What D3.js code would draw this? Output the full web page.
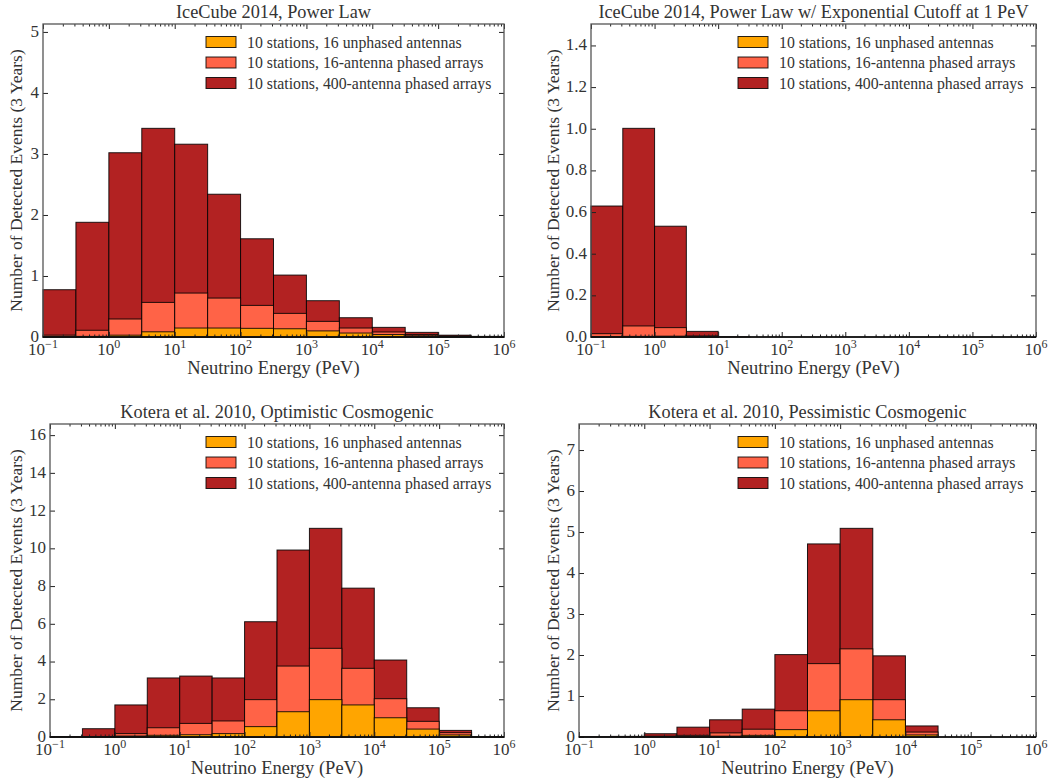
<!DOCTYPE html>
<html>
<head>
<meta charset="utf-8">
<script src="https://cdn.jsdelivr.net/npm/d3@7/dist/d3.min.js"></script>
<style>
  html, body { margin: 0; padding: 0; background: #fff; }
  svg { display: block; }
  text { font-family: "Liberation Serif", "DejaVu Serif", serif; fill: #333; }
</style>
</head>
<body>
<svg id="chart" width="1057" height="784"></svg>
<script>
// ---------- DATA ----------
// Half-decade energy bin edges (PeV)
const binEdges = [0.1, 0.3162, 1, 3.162, 10, 31.62, 100, 316.2, 1000, 3162, 1e4, 3.162e4, 1e5, 3.162e5, 1e6];
const xTickValues = [0.1, 1, 10, 100, 1000, 1e4, 1e5, 1e6];
const xTickExponents = ["\u22121", "0", "1", "2", "3", "4", "5", "6"];

const seriesNames = [
  "10 stations, 16 unphased antennas",
  "10 stations, 16-antenna phased arrays",
  "10 stations, 400-antenna phased arrays"
];
const seriesColors = ["#FFA500", "#FF6347", "#B22222"];

const titles = [
  "IceCube 2014, Power Law",
  "IceCube 2014, Power Law w/ Exponential Cutoff at 1 PeV",
  "Kotera et al. 2010, Optimistic Cosmogenic",
  "Kotera et al. 2010, Pessimistic Cosmogenic"
];

// Panel 1: IceCube 2014, Power Law
const icePL_unphased = [0.003, 0.01, 0.03, 0.085, 0.147, 0.147, 0.142, 0.135, 0.10, 0.065, 0.04, 0.02, 0.01, 0.003];
const icePL_phased16 = [0.03, 0.11, 0.295, 0.567, 0.72, 0.638, 0.518, 0.387, 0.256, 0.147, 0.082, 0.04, 0.015, 0.005];
const icePL_phased400 = [0.775, 1.88, 3.02, 3.42, 3.16, 2.34, 1.61, 1.015, 0.595, 0.316, 0.158, 0.076, 0.03, 0.01];

// Panel 2: IceCube 2014, Power Law w/ cutoff
const iceCut_unphased = [0.001, 0.003, 0.004, 0.001, 0, 0, 0, 0, 0, 0, 0, 0, 0, 0];
const iceCut_phased16 = [0.016, 0.053, 0.045, 0.005, 0, 0, 0, 0, 0, 0, 0, 0, 0, 0];
const iceCut_phased400 = [0.629, 1.002, 0.532, 0.027, 0.001, 0, 0, 0, 0, 0, 0, 0, 0, 0];

// Panel 3: Kotera optimistic
const kotOpt_unphased = [0, 0.003, 0.05, 0.09, 0.12, 0.18, 0.55, 1.34, 1.98, 1.70, 1.02, 0.42, 0.11, 0.003];
const kotOpt_phased16 = [0.005, 0.02, 0.18, 0.49, 0.72, 0.85, 1.98, 3.76, 4.70, 3.64, 2.03, 0.83, 0.23, 0.005];
const kotOpt_phased400 = [0.02, 0.44, 1.70, 3.13, 3.23, 3.13, 6.11, 9.91, 11.06, 7.89, 4.08, 1.55, 0.35, 0.01];

// Panel 4: Kotera pessimistic
const kotPes_unphased = [0, 0, 0, 0.005, 0.02, 0.04, 0.18, 0.64, 0.91, 0.42, 0.05, 0, 0, 0];
const kotPes_phased16 = [0, 0.003, 0.02, 0.04, 0.10, 0.19, 0.64, 1.79, 2.15, 0.91, 0.12, 0, 0, 0];
const kotPes_phased400 = [0.005, 0.015, 0.08, 0.24, 0.42, 0.68, 2.01, 4.71, 5.09, 1.98, 0.27, 0, 0, 0];

const yTicks = [
  [0, 1, 2, 3, 4, 5],
  [0, 0.2, 0.4, 0.6, 0.8, 1.0, 1.2, 1.4],
  [0, 2, 4, 6, 8, 10, 12, 14, 16],
  [0, 1, 2, 3, 4, 5, 6, 7]
];
const yTickFormats = ["d", ".1f", "d", "d"];

// ---------- LAYOUT ----------
const panels = [
  { series: [icePL_unphased, icePL_phased16, icePL_phased400], x0: 43, x1: 504, y0: 24, y1: 337, ylabX: 16 },
  { series: [iceCut_unphased, iceCut_phased16, iceCut_phased400], x0: 591, x1: 1036, y0: 24, y1: 337, ylabX: 553 },
  { series: [kotOpt_unphased, kotOpt_phased16, kotOpt_phased400], x0: 50, x1: 504, y0: 424, y1: 737, ylabX: 16 },
  { series: [kotPes_unphased, kotPes_phased16, kotPes_phased400], x0: 579, x1: 1036, y0: 424, y1: 737, ylabX: 553 }
];

const svg = d3.select("#chart");
const spineColor = "#555";

panels.forEach((p, pi) => {
  const g = svg.append("g");
  const x = d3.scaleLog().domain([0.1, 1e6]).range([p.x0, p.x1]);
  const yMax = 1.5 * d3.max(p.series[2]);
  const y = d3.scaleLinear().domain([0, yMax]).range([p.y1, p.y0]);

  // bars: drawn largest first, each from zero (overlaid)
  const order = [2, 1, 0];
  order.forEach(si => {
    const vals = p.series[si];
    g.append("g").selectAll("rect")
      .data(vals.map((v, i) => ({ v, lo: binEdges[i], hi: binEdges[i + 1] })))
      .join("rect")
      .attr("x", d => x(d.lo))
      .attr("width", d => x(d.hi) - x(d.lo))
      .attr("y", d => y(d.v))
      .attr("height", d => y(0) - y(d.v))
      .attr("fill", seriesColors[si])
      .attr("stroke", "#000")
      .attr("stroke-opacity", 0.85)
      .attr("stroke-width", 1);
  });

  // axes (ticks inward)
  const minorTicks = x.ticks().filter(t => !xTickValues.includes(t));
  const axB = d3.axisBottom(x).tickValues(xTickValues).tickSize(-5).tickFormat("");
  const axBm = d3.axisBottom(x).tickValues(minorTicks).tickSize(-2.5).tickFormat("");
  const axT = d3.axisTop(x).tickValues(xTickValues).tickSize(-5).tickFormat("");
  const axTm = d3.axisTop(x).tickValues(minorTicks).tickSize(-2.5).tickFormat("");
  const axL = d3.axisLeft(y).tickValues(yTicks[pi]).tickSize(-5).tickFormat("");
  const axR = d3.axisRight(y).tickValues(yTicks[pi]).tickSize(-5).tickFormat("");

  const styleAxis = sel => {
    sel.select(".domain").remove();
    sel.selectAll("line").attr("stroke", "#222").attr("stroke-width", 1);
  };
  g.append("g").attr("transform", `translate(0,${p.y1})`).call(axB).call(styleAxis);
  g.append("g").attr("transform", `translate(0,${p.y1})`).call(axBm).call(styleAxis);
  g.append("g").attr("transform", `translate(0,${p.y0})`).call(axT).call(styleAxis);
  g.append("g").attr("transform", `translate(0,${p.y0})`).call(axTm).call(styleAxis);
  g.append("g").attr("transform", `translate(${p.x0},0)`).call(axL).call(styleAxis);
  g.append("g").attr("transform", `translate(${p.x1},0)`).call(axR).call(styleAxis);

  // frame
  g.append("rect")
    .attr("x", p.x0).attr("y", p.y0)
    .attr("width", p.x1 - p.x0).attr("height", p.y1 - p.y0)
    .attr("fill", "none").attr("stroke", spineColor).attr("stroke-width", 1.3);
  g.append("line")
    .attr("x1", p.x0).attr("x2", p.x1).attr("y1", p.y1).attr("y2", p.y1)
    .attr("stroke", "#000").attr("stroke-width", 1.6);

  // x tick labels
  xTickValues.forEach((t, i) => {
    const tx = g.append("text")
      .attr("x", x(t)).attr("y", p.y1 + 18)
      .attr("text-anchor", "middle")
      .style("font-size", "17px");
    tx.append("tspan").text("10");
    tx.append("tspan").text(xTickExponents[i])
      .attr("dy", -7).style("font-size", "12px");
  });

  // y tick labels
  const fmt = d3.format(yTickFormats[pi]);
  yTicks[pi].forEach(t => {
    g.append("text")
      .attr("x", p.x0 - 4).attr("y", y(t) - 1)
      .attr("dy", "0.35em")
      .attr("text-anchor", "end")
      .style("font-size", "17px")
      .text(fmt(t));
  });

  // title
  g.append("text")
    .attr("x", (p.x0 + p.x1) / 2).attr("y", p.y0 - 6)
    .attr("text-anchor", "middle")
    .style("font-size", "18.3px")
    .text(titles[pi]);

  // x label
  g.append("text")
    .attr("x", (p.x0 + p.x1) / 2).attr("y", p.y1 + 37)
    .attr("text-anchor", "middle")
    .style("font-size", "18.5px")
    .text("Neutrino Energy (PeV)");

  // y label
  g.append("text")
    .attr("transform", `translate(${p.ylabX},${(p.y0 + p.y1) / 2}) rotate(-90)`)
    .attr("dy", "0.35em")
    .attr("text-anchor", "middle")
    .style("font-size", "17.5px")
    .text("Number of Detected Events (3 Years)");

  // legend (upper right, no frame)
  const lgX = p.x1 - 298;
  const lgY = p.y0 + 18;
  seriesNames.forEach((name, i) => {
    const cy = lgY + i * 20.5;
    g.append("rect")
      .attr("x", lgX).attr("y", cy - 5.5)
      .attr("width", 30).attr("height", 11)
      .attr("fill", seriesColors[i])
      .attr("stroke", "#000").attr("stroke-opacity", 0.85).attr("stroke-width", 1);
    g.append("text")
      .attr("x", lgX + 41).attr("y", cy)
      .attr("dy", "0.35em")
      .style("font-size", "15.8px")
      .text(name);
  });
});
</script>
</body>
</html>
